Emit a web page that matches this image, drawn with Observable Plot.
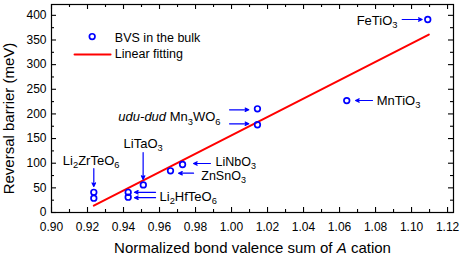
<!DOCTYPE html>
<html><head><meta charset="utf-8">
<script src="https://cdn.jsdelivr.net/npm/d3@7"></script>
<script src="https://cdn.jsdelivr.net/npm/@observablehq/plot@0.6"></script>
<style>
html,body{margin:0;padding:0;background:#fff}
#chart svg{display:block}
</style>
</head><body><div id="chart"></div>
<script>
// ---- data ----
const compounds = ["FeTiO3","MnTiO3","Mn3WO6","Mn3WO6","LiNbO3","ZnSnO3","LiTaO3","Li2HfTeO6","Li2HfTeO6","Li2ZrTeO6","Li2ZrTeO6"];
const bvs      = [1.109, 1.064, 1.0144, 1.0144, 0.9728, 0.9661, 0.951, 0.9426, 0.9426, 0.9235, 0.9235];
const barrier  = [391.6, 227, 210.4, 178, 97.4, 84.6, 56, 41, 31, 41, 29];

// linear fitting end points
const fitX = [0.9235, 1.1096];
const fitY = [14, 361];

// ticks
const xMajorTicks = [0.90,0.92,0.94,0.96,0.98,1.00,1.02,1.04,1.06,1.08,1.10,1.12];
const xMinorTicks = [0.91,0.93,0.95,0.97,0.99,1.01,1.03,1.05,1.07,1.09,1.11];
const yMajorTicks = [0,50,100,150,200,250,300,350,400];
const yMinorTicks = [25,75,125,175,225,275,325,375];

// annotation labels (markup: _n = subscript, *..* = italic)
const labelText   = ["FeTiO_3","MnTiO_3","*udu-dud* Mn_3WO_6","LiNbO_3","ZnSnO_3","LiTaO_3","Li_2HfTeO_6","Li_2ZrTeO_6"];
const labelX      = [1.0922, 1.0806, 0.9939, 0.9911, 0.9832, 0.9509, 0.9600, 0.9063];
const labelY      = [389.5, 227.2, 193.3, 103, 75, 140, 32.5, 105.5];
const labelSize   = [13, 13, 13, 12.5, 12.5, 13, 13, 13];
const labelAnchor = ["end","start","end","start","start","middle","start","start"];

// annotation arrows
const arrowX1 = [1.0948, 1.0783, 0.9989, 0.9989, 0.9883, 0.9789, 0.9509, 0.9578, 0.9578, 0.9235];
const arrowY1 = [391.6, 227.2, 208.4, 180, 99.4, 79.7, 121.7, 41, 30, 89.3];
const arrowX2 = [1.1059, 1.0689, 1.0096, 1.0096, 0.9789, 0.9706, 0.9509, 0.9461, 0.9461, 0.9235];
const arrowY2 = [391.6, 227.2, 208.4, 180, 99.4, 79.7, 67, 41, 30, 52.7];

// legend
const legendLabels = ["BVS in the bulk", "Linear fitting"];
const legendTextX = [0.9352, 0.9352];
const legendTextY = [355, 320.6];
const legendDotX = [0.9226], legendDotY = [357];
const legendLineX = [0.9128, 0.9328], legendLineY = [320.6, 320.6];

const xTitle = "Normalized bond valence sum of *A* cation";
const yTitle = "Reversal barrier (meV)";

// ---- build tables ----
const points = compounds.map((c, i) => ({c, x: bvs[i], y: barrier[i]}));
const fit = fitX.map((x, i) => ({x, y: fitY[i]}));
const labels = labelText.map((t, i) => ({t, x: labelX[i], y: labelY[i], a: labelAnchor[i], s: labelSize[i]}));
const arrows = arrowX1.map((x1, i) => ({x1, y1: arrowY1[i], x2: arrowX2[i], y2: arrowY2[i]}));
const legendRows = legendLabels.map((t, i) => ({t, x: legendTextX[i], y: legendTextY[i]}));
const legendLine = legendLineX.map((x, i) => ({x, y: legendLineY[i]}));

const W = 463, H = 256, ML = 51, MR = 10, MT = 4, MB = 44;
const FW = W - ML - MR, FH = H - MT - MB;
const BLUE = "#0000ff", RED = "#ff0000";

const chart = Plot.plot({
  width: W, height: H,
  marginLeft: ML, marginRight: MR, marginTop: MT, marginBottom: MB,
  style: {fontFamily: '"Liberation Sans", Arial, sans-serif', fontSize: "12px", color: "black", background: "white"},
  x: {domain: [0.9, 1.1233]},
  y: {domain: [0, 422]},
  marks: [
    Plot.frame({stroke: "black", strokeWidth: 1.2}),
    // inward ticks on all four sides
    Plot.tickX(xMajorTicks, {x: d => d, insetTop: FH - 5, stroke: "black", strokeWidth: 1.1}),
    Plot.tickX(xMinorTicks, {x: d => d, insetTop: FH - 3, stroke: "black", strokeWidth: 1.1}),
    Plot.tickX(xMajorTicks, {x: d => d, insetBottom: FH - 5, stroke: "black", strokeWidth: 1.1}),
    Plot.tickX(xMinorTicks, {x: d => d, insetBottom: FH - 3, stroke: "black", strokeWidth: 1.1}),
    Plot.tickY(yMajorTicks, {y: d => d, insetRight: FW - 5, stroke: "black", strokeWidth: 1.1}),
    Plot.tickY(yMinorTicks, {y: d => d, insetRight: FW - 3, stroke: "black", strokeWidth: 1.1}),
    Plot.tickY(yMajorTicks, {y: d => d, insetLeft: FW - 5, stroke: "black", strokeWidth: 1.1}),
    Plot.tickY(yMinorTicks, {y: d => d, insetLeft: FW - 3, stroke: "black", strokeWidth: 1.1}),
    Plot.axisX(xMajorTicks, {tickSize: 0, tickPadding: 10, tickFormat: d3.format(".2f"), label: null, fontSize: 12}),
    Plot.axisY(yMajorTicks, {tickSize: 0, tickPadding: 5, tickFormat: d3.format("d"), label: null, fontSize: 12}),
    // axis titles
    Plot.text([xTitle], {text: d => d, frameAnchor: "bottom", dy: 36, fontSize: 15, textAnchor: "middle", lineAnchor: "middle"}),
    Plot.text([yTitle], {text: d => d, frameAnchor: "left", dx: -42, dy: 10, rotate: -90, fontSize: 15, textAnchor: "middle", lineAnchor: "middle"}),
    // fit line
    Plot.line(fit, {x: "x", y: "y", stroke: RED, strokeWidth: 2}),
    // arrows
    Plot.arrow(arrows, {x1: "x1", y1: "y1", x2: "x2", y2: "y2", stroke: BLUE, fill: BLUE, strokeWidth: 1.2, headLength: 5, headAngle: 50}),
    // points
    Plot.dot(points, {x: "x", y: "y", r: 2.8, stroke: BLUE, strokeWidth: 1.7, fill: "none"}),
    // labels
    ...labels.map(d =>
      Plot.text([d], {x: "x", y: "y", text: "t", textAnchor: d.a, lineAnchor: "middle", fontSize: d.s, fill: "black"})),
    // legend
    Plot.dot(legendDotX.map((x, i) => ({x, y: legendDotY[i]})), {x: "x", y: "y", r: 2.8, stroke: BLUE, strokeWidth: 1.7, fill: "none"}),
    Plot.line(legendLine, {x: "x", y: "y", stroke: RED, strokeWidth: 2}),
    Plot.text(legendRows, {x: "x", y: "y", text: "t", textAnchor: "start", lineAnchor: "middle", fontSize: 12.5, fill: "black"})
  ]
});

// rich text: subscripts and italics
function richify(svg) {
  const NS = "http://www.w3.org/2000/svg";
  svg.querySelectorAll("text").forEach(t => {
    const s = t.textContent;
    if (!/[_*]/.test(s)) return;
    while (t.firstChild) t.removeChild(t.firstChild);
    const re = /(\*[^*]+\*)|(_\d)|([^*_]+)/g;
    let m, shift = 0;
    while ((m = re.exec(s))) {
      const ts = document.createElementNS(NS, "tspan");
      let want = 0;
      if (m[1]) { ts.textContent = m[1].slice(1, -1); ts.setAttribute("font-style", "italic"); }
      else if (m[2]) { ts.textContent = m[2].slice(1); ts.setAttribute("font-size", "0.72em"); want = 3.5; }
      else ts.textContent = m[3];
      if (want !== shift) { ts.setAttribute("dy", want - shift); shift = want; }
      t.appendChild(ts);
    }
  });
}
richify(chart);
document.getElementById("chart").appendChild(chart);
</script>
</body></html>
